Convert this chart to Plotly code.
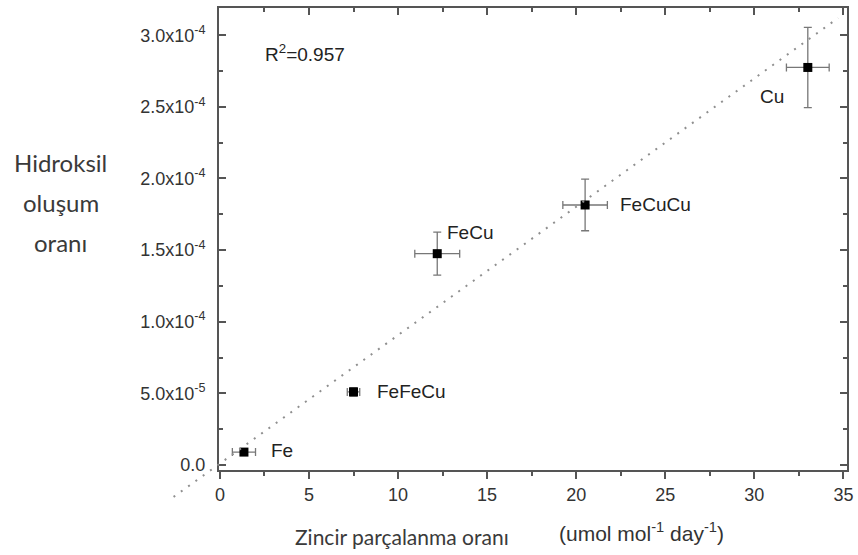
import plotly.graph_objects as go

# ---------------- data ----------------
names = ["Fe", "FeFeCu", "FeCu", "FeCuCu", "Cu"]
x_vals = [1.35, 7.5, 12.2, 20.5, 33.0]
y_vals = [0.9e-5, 5.1e-5, 1.475e-4, 1.815e-4, 2.775e-4]
x_err = [0.65, 0.35, 1.26, 1.25, 1.2]
y_err = [0.2e-5, 0.3e-5, 0.15e-4, 0.18e-4, 0.28e-4]

fit_x = [-2.6, 34.7]
fit_y = [-2.23e-5, 3.12e-4]

y_tickvals = [0, 5e-5, 1e-4, 1.5e-4, 2e-4, 2.5e-4, 3e-4]
y_ticktext = ["0.0", "5.0x10<sup>-5</sup>", "1.0x10<sup>-4</sup>", "1.5x10<sup>-4</sup>",
              "2.0x10<sup>-4</sup>", "2.5x10<sup>-4</sup>", "3.0x10<sup>-4</sup>"]

# label offsets (pixels) relative to their points
label_dx = [25, 21, 8, 33, -22]
label_dy = [2, 0, 21, 0, -29]
label_anchor = ["left", "left", "left", "left", "right"]

# ---------------- layout geometry ----------------
W, H = 858, 555
px_left, px_right, px_top, px_bottom = 219, 847, 8, 470
x_range = [-0.05, 35.2]
y_range = [-3.5e-6, 3.19e-4]
ppu_x = (px_right - px_left) / (x_range[1] - x_range[0])
ppu_y = (px_bottom - px_top) / (y_range[1] - y_range[0])

ext_left, ext_bottom = 165, 505
x2_range = [x_range[0] - (px_left - ext_left) / ppu_x, x_range[1]]
y2_range = [y_range[0] - (ext_bottom - px_bottom) / ppu_y, y_range[1]]

xdom = [px_left / W, px_right / W]
ydom = [1 - px_bottom / H, 1 - px_top / H]
x2dom = [ext_left / W, px_right / W]
y2dom = [1 - ext_bottom / H, 1 - px_top / H]

axis_col = "#555555"
tick_font = dict(family="Liberation Sans, Arial", size=18, color="#333333")
lbl_font = dict(family="Liberation Sans, Arial", size=19, color="#222222")

fig = go.Figure()

fig.add_trace(go.Scatter(
    x=fit_x, y=fit_y, mode="lines", xaxis="x2", yaxis="y2",
    line=dict(color="#8f8f8f", width=2, dash="2px,7px"), showlegend=False, hoverinfo="skip"))

fig.add_trace(go.Scatter(
    x=x_vals, y=y_vals, mode="markers", xaxis="x", yaxis="y",
    marker=dict(symbol="square", size=9, color="black"),
    error_x=dict(type="data", array=x_err, color="#777777", thickness=1.3, width=4),
    error_y=dict(type="data", array=y_err, color="#777777", thickness=1.3, width=4),
    showlegend=False))

# invisible trace so the top mirror axis is drawn
fig.add_trace(go.Scatter(x=[None], y=[None], xaxis="x3", yaxis="y", mode="markers",
                         showlegend=False, hoverinfo="skip"))

annotations = []
for n, xv, yv, dx, dy, anc in zip(names, x_vals, y_vals, label_dx, label_dy, label_anchor):
    annotations.append(dict(x=xv, y=yv, xref="x", yref="y", text=n, showarrow=False,
                            xanchor=anc, yanchor="middle", xshift=dx, yshift=dy, font=lbl_font))

annotations.append(dict(x=2.4, y=2.875e-4, xref="x", yref="y", text="R<sup>2</sup>=0.957",
                        showarrow=False, xanchor="left", yanchor="middle", font=lbl_font))

title_font = dict(family="Lato, Open Sans", size=24, color="#3a3a3a")
for txt, py in [("Hidroksil", 162), ("oluşum", 202), ("oranı", 242)]:
    annotations.append(dict(x=60.5 / W, y=1 - py / H, xref="paper", yref="paper", text=txt,
                            showarrow=False, xanchor="center", yanchor="middle", font=title_font))

annotations.append(dict(x=402 / W, y=1 - 536 / H, xref="paper", yref="paper",
                        text="Zincir parçalanma oranı", showarrow=False, xanchor="center",
                        yanchor="middle", font=dict(family="Lato, Open Sans", size=21, color="#3a3a3a")))
annotations.append(dict(x=641 / W, y=1 - 532 / H, xref="paper", yref="paper",
                        text="(umol mol<sup>-1</sup> day<sup>-1</sup>)", showarrow=False,
                        xanchor="center", yanchor="middle",
                        font=dict(family="Liberation Sans, Arial", size=21, color="#333333")))

fig.update_layout(
    width=W, height=H, margin=dict(l=0, r=0, t=0, b=0),
    paper_bgcolor="white", plot_bgcolor="rgba(0,0,0,0)",
    xaxis=dict(domain=xdom, range=x_range, anchor="y", tickmode="linear", tick0=0, dtick=5,
               ticks="outside", ticklen=7, tickwidth=2, tickcolor=axis_col,
               showline=True, linecolor=axis_col, linewidth=2, mirror=False,
               showgrid=False, zeroline=False, tickfont=tick_font,
               minor=dict(ticks="outside", ticklen=4, tickwidth=2, tickcolor=axis_col,
                          tickmode="linear", tick0=0, dtick=2.5),
               automargin=False),
    xaxis3=dict(overlaying="x", side="top", anchor="y", domain=xdom, range=x_range,
                tickmode="linear", tick0=0, dtick=5, ticks="inside", ticklen=7, tickwidth=2,
                tickcolor=axis_col, showline=True, linecolor=axis_col, linewidth=2,
                showticklabels=False, showgrid=False, zeroline=False,
                minor=dict(ticks="inside", ticklen=4, tickwidth=2, tickcolor=axis_col,
                           tickmode="linear", tick0=0, dtick=2.5),
                automargin=False, fixedrange=True),
    yaxis=dict(domain=ydom, range=y_range, anchor="x", tickmode="array", tickvals=y_tickvals,
               ticktext=y_ticktext, ticks="inside", ticklen=7, tickwidth=2, tickcolor=axis_col,
               showline=True, linecolor=axis_col, linewidth=2, mirror="ticks",
               showgrid=False, zeroline=False, tickfont=tick_font, ticklabelstandoff=8,
               minor=dict(ticks="inside", ticklen=4, tickwidth=2, tickcolor=axis_col,
                          tickmode="linear", tick0=0, dtick=2.5e-5),
               automargin=False),
    xaxis2=dict(domain=x2dom, range=x2_range, anchor="y2", visible=False, fixedrange=True),
    yaxis2=dict(domain=y2dom, range=y2_range, anchor="x2", visible=False, fixedrange=True),
    annotations=annotations,
)

fig.write_html("out.html")
